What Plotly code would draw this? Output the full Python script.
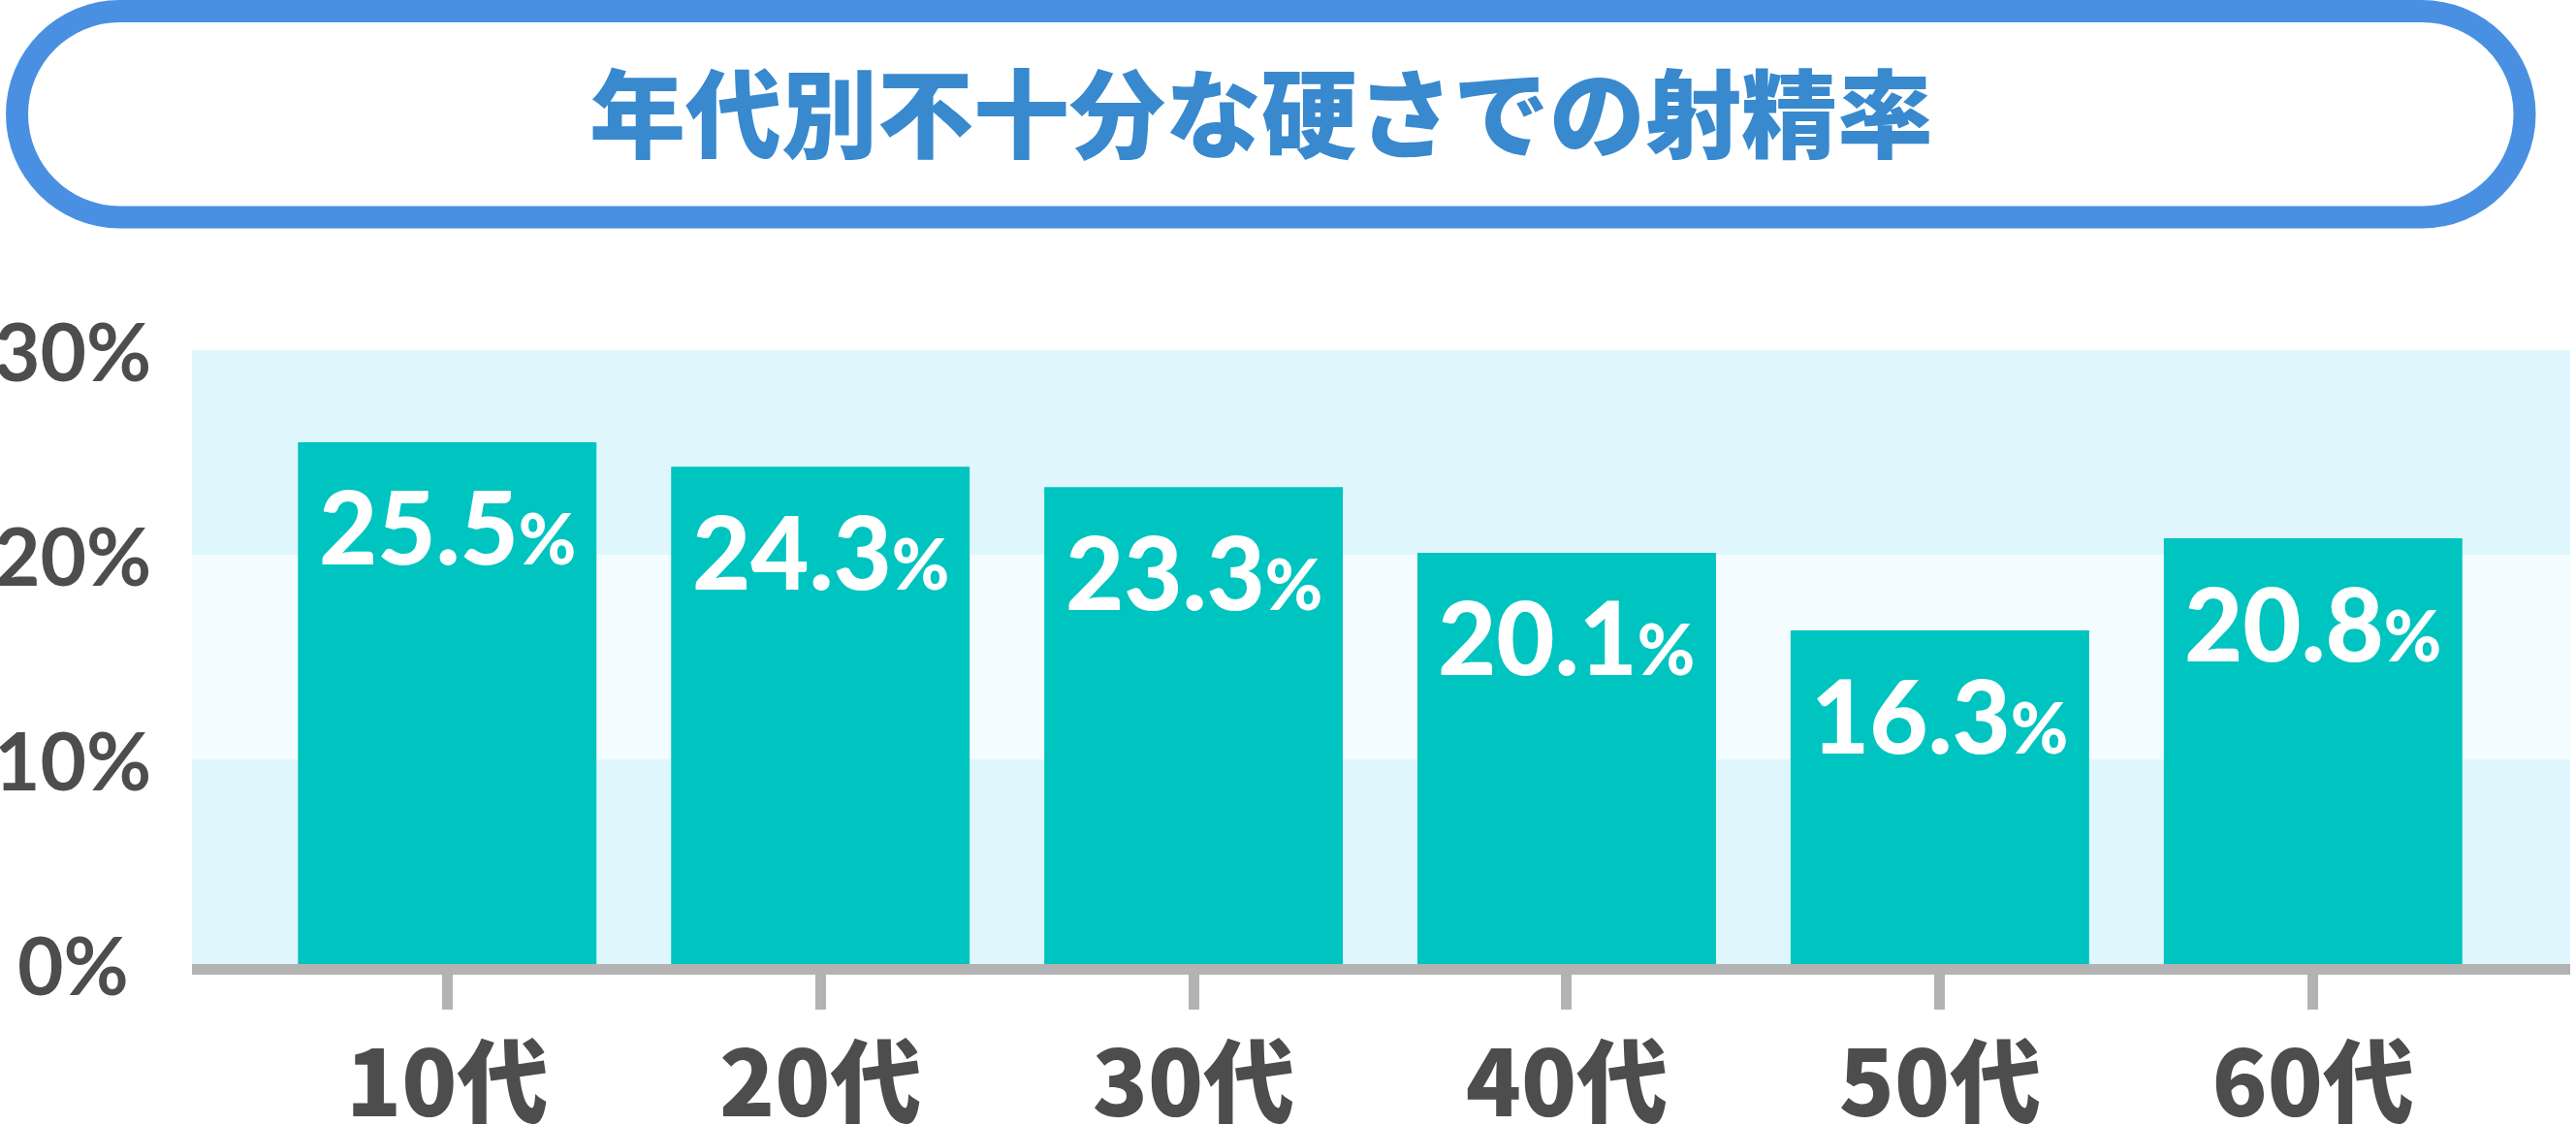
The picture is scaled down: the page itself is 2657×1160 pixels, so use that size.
import plotly.graph_objects as go

# data
ages = ["10代", "20代", "30代", "40代", "50代", "60代"]
rates = [25.5, 24.3, 23.3, 20.1, 16.3, 20.8]
y_ticks = [0, 10, 20, 30]
y_tick_labels = ["0%", "10%", "20%", "30%"]
title_text = "年代別不十分な硬さでの射精率"

W_FIG, H_FIG = 2657, 1160
# plot area in page pixels
P_L, P_R, P_T, P_B = 198, 2651, 361, 994
M_L = P_L
M_T = P_T
M_R = W_FIG - P_R
M_B = H_FIG - P_B
PW = W_FIG - M_L - M_R
PH = H_FIG - M_T - M_B


def to_paper(x, y):
    # page pixel position -> paper coords of the plot area
    return (x - P_L) / PW, (P_B - y) / PH


def pill_path(x0, y0, x1, y1):
    r = (y1 - y0) / 2
    k = 0.5523 * r
    cy = (y0 + y1) / 2
    pts = [
        ("M", [(x0 + r, y0)]),
        ("L", [(x1 - r, y0)]),
        ("C", [(x1 - r + k, y0), (x1, cy - k), (x1, cy)]),
        ("C", [(x1, cy + k), (x1 - r + k, y1), (x1 - r, y1)]),
        ("L", [(x0 + r, y1)]),
        ("C", [(x0 + r - k, y1), (x0, cy + k), (x0, cy)]),
        ("C", [(x0, cy - k), (x0 + r - k, y0), (x0 + r, y0)]),
    ]
    s = ""
    for cmd, pp in pts:
        s += cmd + " " + " ".join("%.5f,%.5f" % to_paper(a, b) for a, b in pp) + " "
    return s + "Z"


fig = go.Figure()

fig.add_trace(go.Bar(
    x=ages,
    y=rates,
    width=0.8,
    marker=dict(color="#00C4C0", line=dict(width=0)),
    hoverinfo="skip",
))

# background bands
band_cols = ["#DFF7FC", "#F3FCFE", "#DFF7FC"]
for i in range(3):
    fig.add_shape(type="rect", xref="paper", yref="y", x0=0, x1=1,
                  y0=y_ticks[i], y1=y_ticks[i + 1],
                  fillcolor=band_cols[i], line=dict(width=0), layer="below")

# value labels inside the bars
for a, v in zip(ages, rates):
    fig.add_annotation(
        x=a, y=v, xref="x", yref="y",
        text="%.1f<span style='font-size:72px'>%%</span>" % v,
        showarrow=False, yanchor="middle", xanchor="center", yshift=-86,
        font=dict(family="Lato", size=104, color="white", weight=900),
    )

# y labels, centred left of the plot
for t, lab in zip(y_ticks, y_tick_labels):
    fig.add_annotation(
        x=to_paper(75, 0)[0], y=t, xref="paper", yref="y",
        text=lab, showarrow=False, xanchor="center", yanchor="middle",
        font=dict(family="Lato", size=82, color="#4D4D4D", weight="bold"),
    )

# title pill
fig.add_shape(type="path", xref="paper", yref="paper",
              path=pill_path(17.5, 11.5, 2604, 224),
              line=dict(color="#4A90E2", width=23), fillcolor="rgba(0,0,0,0)")
tx, ty = to_paper(1301, 112)
fig.add_annotation(
    x=tx, y=ty, xref="paper", yref="paper", text=title_text,
    showarrow=False, xanchor="center", yanchor="middle",
    font=dict(family="Noto Sans CJK JP", size=99, color="#3889CE", weight=900),
)

fig.update_layout(
    width=W_FIG, height=H_FIG,
    margin=dict(l=M_L, r=M_R, t=M_T, b=M_B),
    paper_bgcolor="white",
    plot_bgcolor="rgba(0,0,0,0)",
    showlegend=False,
    bargap=0.2,
)
fig.update_xaxes(
    range=[-0.684, 5.689], automargin=False,
    showline=True, linecolor="#B3B3B3", linewidth=11,
    ticks="outside", ticklen=36, tickwidth=11, tickcolor="#B3B3B3",
    tickfont=dict(family="Noto Sans CJK JP", size=94, color="#4D4D4D", weight=900),
    ticklabelstandoff=-3,
    showgrid=False, zeroline=False,
)
fig.update_yaxes(
    range=[0, 30], automargin=False, showticklabels=False, showgrid=False,
    zeroline=False, showline=False, ticks="",
)

# drop the default 8px body margin so the figure fills the window
fig.write_html("out.html", config={"displayModeBar": False},
               post_script="document.body.style.margin='0';")
